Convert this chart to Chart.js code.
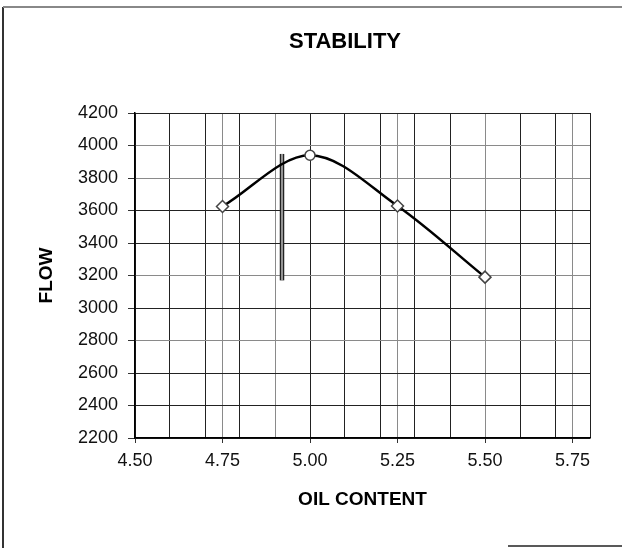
<!DOCTYPE html>
<html>
<head>
<meta charset="utf-8">
<script src="https://cdn.jsdelivr.net/npm/chart.js@4/dist/chart.umd.min.js"></script>
<style>
  html, body { margin: 0; padding: 0; background: #fff; }
  #wrap { width: 622px; height: 548px; }
</style>
</head>
<body>
<div id="wrap"><canvas id="c" width="622" height="548"></canvas></div>
<script>
// ---- data ----
const chartTitle = 'STABILITY';
const xAxisTitle = 'OIL CONTENT';
const yAxisTitle = 'FLOW';
const oilContent = [4.75, 5.00, 5.25, 5.50];
const flow = [3625, 3940, 3628, 3190];
const markerLineX = [4.92, 4.92];
const markerLineY = [3170, 3948];
const xGridValues = [4.5, 4.6, 4.7, 4.75, 4.8, 4.9, 5.0, 5.1, 5.2, 5.25, 5.3, 5.4, 5.5, 5.6, 5.7, 5.75, 5.8];
const xTickLabels = ['4.50', '4.75', '5.00', '5.25', '5.50', '5.75'];
const yMin = 2200, yMax = 4200, yStep = 200;

// ---- styles ----
const FONT = "'Liberation Sans', Arial, Helvetica, sans-serif";
const grayX = [4.75, 4.9, 5.25, 5.5, 5.75];
const grayY = [4000, 3800, 3200, 2800];
const near = (a, b) => Math.abs(a - b) < 1e-6;
const labelFor = v => { const l = xTickLabels.find(t => near(parseFloat(t), v)); return l === undefined ? '' : l; };

const mainData = oilContent.map((x, i) => ({ x, y: flow[i] }));
const lineData = markerLineX.map((x, i) => ({ x, y: markerLineY[i] }));

const framePlugin = {
  id: 'frame',
  beforeDraw(chart) {
    const ctx = chart.ctx;
    ctx.save();
    ctx.fillStyle = '#fff';
    ctx.fillRect(0, 0, chart.width, chart.height);
    ctx.lineWidth = 2;
    ctx.strokeStyle = '#333';
    ctx.beginPath(); ctx.moveTo(3, 7); ctx.lineTo(3, 548); ctx.stroke();
    ctx.strokeStyle = '#888';
    ctx.beginPath(); ctx.moveTo(3, 7); ctx.lineTo(622, 7); ctx.stroke();
    ctx.strokeStyle = '#222';
    ctx.lineWidth = 1.5;
    ctx.beginPath(); ctx.moveTo(508, 546); ctx.lineTo(622, 546); ctx.stroke();
    ctx.restore();
  },
  afterDraw(chart) {
    const ctx = chart.ctx;
    ctx.save();
    ctx.fillStyle = '#000';
    ctx.font = 'bold 22px ' + FONT;
    ctx.textAlign = 'center';
    ctx.textBaseline = 'middle';
    ctx.fillText(chartTitle, 345, 42);
    ctx.restore();
  }
};

new Chart(document.getElementById('c'), {
  type: 'scatter',
  data: {
    datasets: [
      {
        data: lineData, showLine: true, borderColor: '#222', borderWidth: 4.5,
        pointRadius: 0, order: 3
      },
      {
        data: lineData, showLine: true, borderColor: '#bbb', borderWidth: 1.5,
        pointRadius: 0, order: 2
      },
      {
        data: mainData, showLine: true, borderColor: '#000', borderWidth: 2.5,
        cubicInterpolationMode: 'monotone',
        pointStyle: ctx => (near(oilContent[ctx.dataIndex], 5.0) ? 'circle' : 'rectRot'),
        pointRadius: ctx => (near(oilContent[ctx.dataIndex], 5.0) ? 5 : 6),
        pointBackgroundColor: '#fff', pointBorderColor: '#444', pointBorderWidth: 1.5,
        order: 1
      }
    ]
  },
  options: {
    responsive: false,
    animation: false,
    layout: { padding: { top: 113, right: 32, left: 0, bottom: 0 } },
    plugins: { legend: { display: false }, tooltip: { enabled: false }, title: { display: false } },
    scales: {
      x: {
        type: 'linear', min: 4.5, max: 5.8,
        afterBuildTicks: s => { s.ticks = xGridValues.map(v => ({ value: v })); },
        afterFit: s => { s.height = 110; },
        ticks: {
          autoSkip: false, maxRotation: 0, padding: 7,
          color: '#111', font: { family: FONT, size: 18 },
          callback: v => labelFor(v)
        },
        grid: {
          color: c => (grayX.some(g => near(g, c.tick.value)) ? '#8a8a8a' : '#222'),
          tickColor: c => (labelFor(c.tick.value) ? '#333' : 'rgba(0,0,0,0)'),
          tickLength: 5, lineWidth: 1
        },
        border: { color: '#000', width: 1.5 },
        title: {
          display: true, text: xAxisTitle, color: '#000',
          font: { family: FONT, size: 19, weight: 'bold' },
          padding: { top: 0, bottom: 37 }
        }
      },
      y: {
        type: 'linear', min: yMin, max: yMax,
        afterFit: s => { s.width = 135; },
        ticks: {
          stepSize: yStep, padding: 10, color: '#111',
          font: { family: FONT, size: 18 },
          callback: v => String(v)
        },
        grid: {
          color: c => (grayY.includes(c.tick.value) ? '#8a8a8a' : '#222'),
          tickColor: '#333', tickLength: 7, lineWidth: 1
        },
        border: { color: '#000', width: 1.5 },
        title: {
          display: true, text: yAxisTitle, color: '#000',
          font: { family: FONT, size: 19, weight: 'bold' },
          padding: { top: 35, bottom: 0 }
        }
      }
    }
  },
  plugins: [framePlugin]
});
</script>
</body>
</html>
